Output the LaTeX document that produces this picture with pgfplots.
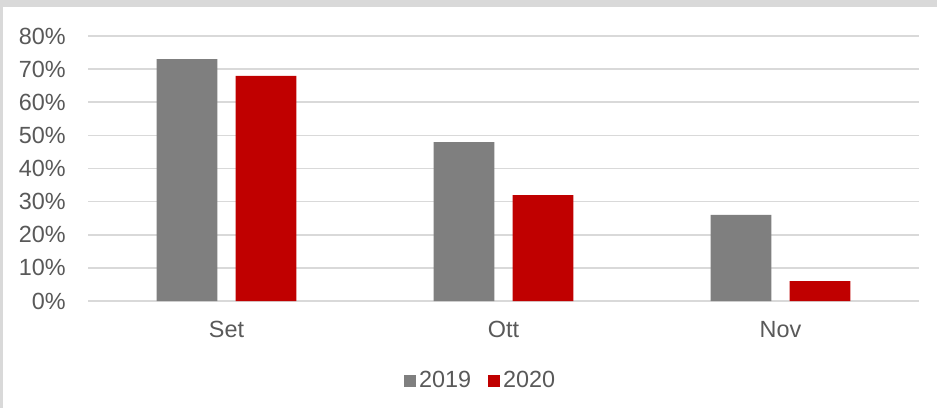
\documentclass[border=0pt]{standalone}
\usepackage{pgfplots}
\pgfplotsset{compat=1.18}
\usepackage{fontspec}
\setmainfont{Liberation Sans}
\definecolor{txt}{HTML}{595959}
\definecolor{gridc}{HTML}{D9D9D9}
\definecolor{frame}{HTML}{D9D9D9}
\definecolor{cgray}{HTML}{7F7F7F}
\definecolor{cred}{HTML}{C00000}
\begin{document}
\begin{tikzpicture}
\fill[frame] (0,0) rectangle (468.5pt,204pt);
\fill[white] (1.5pt,0) rectangle (468.5pt,200.5pt);
\begin{axis}[
  at={(44pt,53.5pt)}, anchor=south west,
  scale only axis, width=415.5pt, height=132.5pt,
  ybar, bar width=0.22,
  xmin=-0.5, xmax=2.5, ymin=0, ymax=80,
  xtick={0,1,2}, xticklabels={Set,Ott,Nov},
  ytick={0,10,20,30,40,50,60,70,80},
  yticklabels={0\%,10\%,20\%,30\%,40\%,50\%,60\%,70\%,80\%},
  axis line style={draw=none},
  major tick length=0pt,
  ymajorgrids, grid style={draw=gridc, line width=0.8pt},
  tick label style={font=\fontsize{11.7}{14}\selectfont, text=txt, inner sep=0pt},
  yticklabel style={xshift=-11pt},
  xticklabel style={yshift=-9.8pt},
  legend columns=-1,
  legend style={draw=none, fill=none, at={(0.473,-0.302)}, anchor=center,
    font=\fontsize{11.7}{14}\selectfont, text=txt,
    /tikz/every even column/.append style={column sep=7pt},
    nodes={inner sep=1.5pt}},
  legend image code/.code={\fill[#1] (-1.5pt,-3pt) rectangle (4.5pt,3pt);},
]
\addplot[fill=cgray, draw=none, bar shift=-0.1426] coordinates {(0,73) (1,48) (2,26)};
\addplot[fill=cred, draw=none, bar shift=0.1426] coordinates {(0,68) (1,32) (2,6)};
\legend{2019,2020}
\end{axis}
\pgfresetboundingbox
\path (0,0) rectangle (468.5pt,204pt);
\end{tikzpicture}
\end{document}
